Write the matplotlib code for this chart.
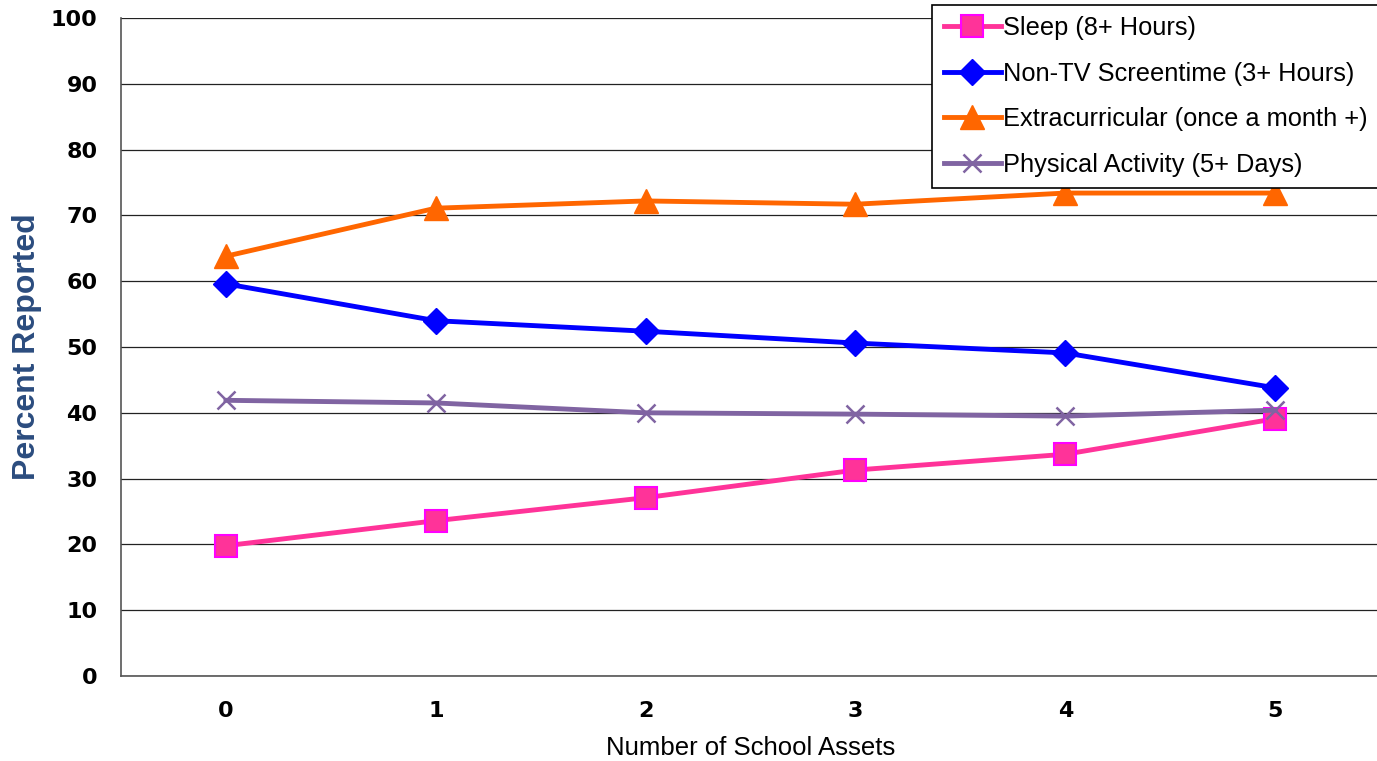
import matplotlib.pyplot as plt

plt.rcParams['font.family'] = ['Liberation Sans', 'DejaVu Sans']

assets = [0, 1, 2, 3, 4, 5]
sleep = [19.8, 23.6, 27.1, 31.3, 33.7, 39.1]
screentime = [59.6, 54.0, 52.4, 50.6, 49.1, 43.8]
extracurricular = [63.8, 71.1, 72.2, 71.7, 73.4, 73.4]
physical = [41.9, 41.5, 40.0, 39.8, 39.5, 40.4]

fig = plt.figure(figsize=(13.77, 7.61), dpi=100)
ax = fig.add_axes([0.0879, 0.1117, 0.9143, 0.8646])

ax.plot(assets, sleep, '-s', color='#FF3399', lw=3.5, ms=16,
        mfc='#FF3399', mec='#FF00FF', mew=1.5, label='Sleep (8+ Hours)')
ax.plot(assets, screentime, '-D', color='#0000FF', lw=3.5, ms=13,
        label='Non-TV Screentime (3+ Hours)')
ax.plot(assets, extracurricular, '-^', color='#FF6600', lw=3.5, ms=17,
        label='Extracurricular (once a month +)')
ax.plot(assets, physical, '-x', color='#8064A2', lw=3.5, ms=13, mew=1.8,
        label='Physical Activity (5+ Days)')

ax.set_xlim(-0.5, 5.5)
ax.set_ylim(0, 100)
ax.set_yticks(range(0, 101, 10))
ax.set_xticks(assets)
ax.yaxis.grid(True, color='#222222', lw=0.9)
ax.set_axisbelow(True)
ax.tick_params(length=0)
ax.tick_params(axis='y', pad=17)
ax.tick_params(axis='x', pad=18)
for lbl in ax.get_xticklabels() + ax.get_yticklabels():
    lbl.set_fontfamily('DejaVu Sans')
    lbl.set_fontweight('bold')
    lbl.set_fontsize(16)

for s in ['top', 'right']:
    ax.spines[s].set_visible(False)
ax.spines['left'].set_color('#555555')
ax.spines['bottom'].set_color('#555555')
ax.spines['left'].set_linewidth(1.2)
ax.spines['bottom'].set_linewidth(1.2)

ax.set_xlabel('Number of School Assets', fontsize=18.5, labelpad=11)
ax.set_ylabel('Percent Reported', fontsize=23, fontweight='bold',
              color='#2B4C7E', labelpad=6)

leg = fig.legend(loc='upper left', bbox_to_anchor=(0.677, 0.994),
                 fontsize=18.3, frameon=True, fancybox=False, framealpha=1,
                 edgecolor='black', handlelength=2.25, handletextpad=0.1,
                 labelspacing=0.85, borderpad=0.45, borderaxespad=0)
leg.get_frame().set_linewidth(1.2)

fig.savefig('out.png', dpi=100)
